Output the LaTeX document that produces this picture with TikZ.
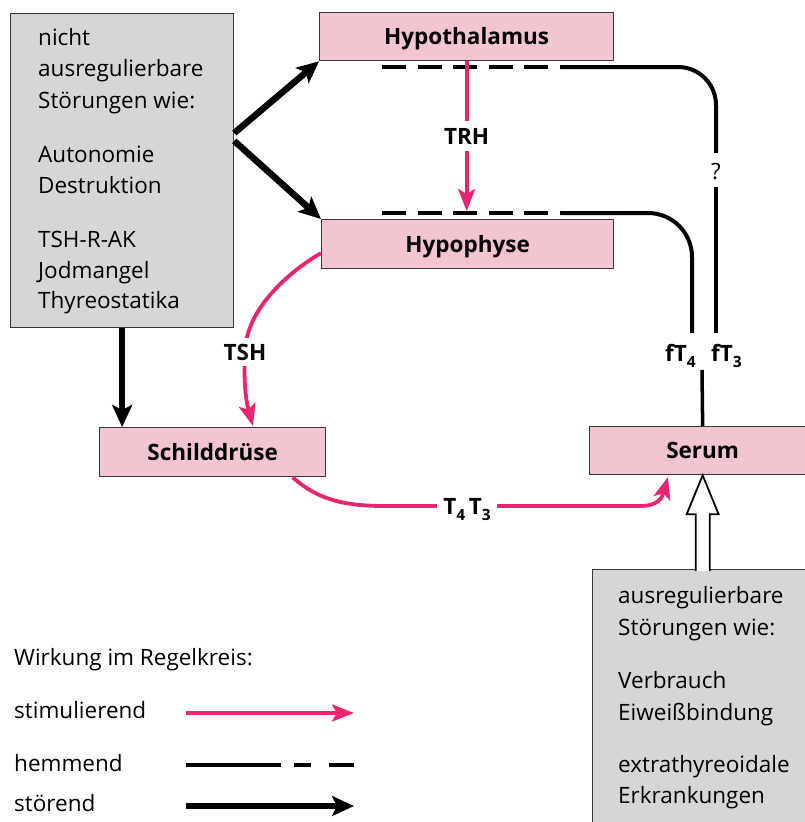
\documentclass[tikz,border=0pt]{standalone}
\usepackage{fontspec}
\setmainfont{Open Sans}
\usetikzlibrary{arrows.meta,calc}
\definecolor{boxpink}{RGB}{243,197,208}
\definecolor{boxgray}{RGB}{214,214,214}
\definecolor{arrpink}{RGB}{234,36,112}
\definecolor{edge}{RGB}{55,55,55}
\newcommand\subnum[1]{\raisebox{-6pt}{\fontsize{15.5}{15.5}\selectfont #1}}
\begin{document}
\begin{tikzpicture}[x=1pt,y=-1pt,
  txt/.style={font=\fontsize{22.5}{27}\selectfont, inner sep=0pt, anchor=base west},
  lbl/.style={font=\fontsize{22.5}{26}\selectfont\bfseries, inner sep=0pt, text height=16pt, text depth=0pt},
  pinkbox/.style={draw=edge, line width=1.3pt, fill=boxpink, inner sep=0pt, text height=16pt, text depth=0pt, font=\fontsize{22.5}{26}\selectfont\bfseries},
  graybox/.style={draw=edge, line width=1.3pt, fill=boxgray, inner sep=0pt},
  stim/.style={draw=arrpink, line width=3.8pt, -{Stealth[length=22pt,width=17pt,inset=5pt]}},
  stoer/.style={draw=black, line width=6.5pt, -{Stealth[length=22pt,width=20pt,inset=5pt]}},
  hemm/.style={draw=black, line width=4pt},
  hemmdash/.style={hemm, dash pattern=on 24pt off 11.5pt},
  hollow/.style={draw=black, line width=1.8pt, fill=white, line join=miter},
]
\useasboundingbox (0,0) rectangle (804,822);

% boxes
\node[graybox, minimum width=223pt, minimum height=314pt, anchor=north west] (lbox) at (10,13) {};
\node[pinkbox, minimum width=294pt, minimum height=48pt, anchor=north west] (hypoth) at (319,12) {Hypothalamus};
\node[pinkbox, minimum width=292pt, minimum height=49pt, anchor=north west] (hypoph) at (321,219) {Hypophyse};
\node[pinkbox, minimum width=226pt, minimum height=49pt, anchor=north west] (schild) at (99,427) {Schilddrüse};
\node[pinkbox, minimum width=226pt, minimum height=48pt, anchor=north west] (serum) at (589,426) {Serum};
\node[graybox, minimum width=230pt, minimum height=270pt, anchor=north west] (rbox) at (592,569) {};

% left box text
\node[txt] (l1) at (38,45) {nicht};
\node[txt] (l2) at (38,76.5) {ausregulierbare};
\node[txt] (l3) at (38,108) {Störungen wie:};
\node[txt] (l4) at (38,162) {Autonomie};
\node[txt] (l5) at (38,193) {Destruktion};
\node[txt] (l6) at (38,247) {TSH-R-AK};
\node[txt] (l7) at (38,278) {Jodmangel};
\node[txt] (l8) at (38,308) {Thyreostatika};

% right box text
\node[txt] (r1) at (618,603) {ausregulierbare};
\node[txt] (r2) at (618,635) {Störungen wie:};
\node[txt] (r3) at (618,688) {Verbrauch};
\node[txt] (r4) at (618,720) {Eiweißbindung};
\node[txt] (r5) at (618,772) {extrathyreoidale};
\node[txt] (r6) at (618,803) {Erkrankungen};

% inhibition lines
\coordinate (d1s) at (382,67);
\coordinate (d1e) at (561,67);
\coordinate (d2s) at (382,213);
\coordinate (d2e) at (561,213);
\coordinate (c3) at (716,333);
\coordinate (c4) at (692,333);
\node[font=\fontsize{22.5}{27}\selectfont, inner sep=0pt, text height=16pt, text depth=0pt] (qm) at (716,171) {?};
\draw[hemmdash] (d1s) -- (d1e);
\draw[hemm, rounded corners=38pt] (d1e) -- (716,67) -- ([yshift=10pt]qm.north);
\draw[hemm] ([yshift=-8pt]qm.south) -- (c3);
\draw[hemmdash] (d2s) -- (d2e);
\draw[hemm, rounded corners=44pt] (d2e) -- (692,213) -- (c4);

\node[font=\fontsize{22.5}{26}\selectfont\bfseries, inner sep=0pt, anchor=base west] (ft4) at (665,361) {fT\subnum{4}};
\node[font=\fontsize{22.5}{26}\selectfont\bfseries, inner sep=0pt, anchor=base west] (ft3) at (711,361) {fT\subnum{3}};
\coordinate (s1) at (702,370);
\draw[hemm, line width=3.5pt] (s1) -- (serum.north);

% TRH
\draw[stim] (hypoth.south) -- node[lbl, fill=white, inner xsep=2pt, inner ysep=7pt] (trh) {TRH} (hypoth.south |- 0,211);

% disturbing arrows
\draw[stoer] ([yshift=-120pt]lbox.north east) -- (hypoth.south west);
\draw[stoer] ([yshift=-128pt]lbox.north east) -- (hypoph.north west);
\draw[stoer] (lbox.south) -- (lbox.south |- schild.north);

% TSH
\draw[stim] ([yshift=-9pt]hypoph.west) .. controls (295,268) and (246,306) .. (245,352)
  node[lbl, fill=white, inner xsep=2pt, inner ysep=6pt] (tsh) {TSH}
  .. controls (243,392) and (248,408) .. (253,426);

% T4 T3
\draw[stim] ([xshift=80pt]schild.south) .. controls (318,500) and (345,506) .. (385,506)
  -- (467,506) node[lbl, fill=white, inner xsep=6pt, inner ysep=4pt] (t43) {T\subnum{4}\,T\subnum{3}}
  -- (640,506) .. controls (658,506) and (662,498) .. (668,477);

% hollow arrow
\coordinate (ha) at (serum.south);
\coordinate (hb) at (rbox.north -| serum.south);
\draw[hollow] ($(hb)+(-7,2)$) -- ($(ha)+(-7,39)$) -- ($(ha)+(-16,39)$) -- (ha) -- ($(ha)+(16,39)$) -- ($(ha)+(7,39)$) -- ($(hb)+(7,2)$);

% legend
\node[txt] (w) at (14,665) {Wirkung im Regelkreis:};
\node[txt] (st) at (14,718) {stimulierend};
\node[txt] (he) at (14,771) {hemmend};
\node[txt] (sr) at (14,811) {störend};
\coordinate (ls1) at (186,713);
\coordinate (ls2) at (354,713);
\coordinate (lh1) at (186,765);
\coordinate (lh2) at (354,765);
\coordinate (lr1) at (186,806);
\coordinate (lr2) at (354,806);
\draw[stim] (ls1) -- (ls2);
\draw[hemm, dash pattern=on 95pt off 13pt on 17pt off 18pt on 25pt] (lh1) -- (lh2);
\draw[stoer] (lr1) -- (lr2);
\end{tikzpicture}
\end{document}
